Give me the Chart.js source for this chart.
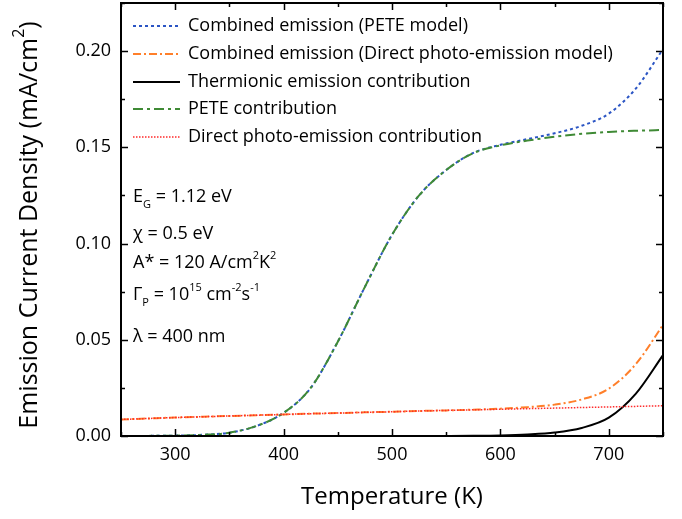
<!DOCTYPE html>
<html>
<head>
<meta charset="utf-8">
<script src="https://cdn.jsdelivr.net/npm/chart.js@4.4.1/dist/chart.umd.min.js"></script>
<style>
html,body{margin:0;padding:0;background:#fff;}
#c{display:block;}
</style>
</head>
<body>
<canvas id="c" width="682" height="519"></canvas>
<script>
// ---- Data ----
const temps = [250,275,300,325,350,375,400,425,450,475,500,525,550,575,600,625,650,675,700,725,750];
const combinedPETE = [0.00002,0.00006,0.0002,0.0006,0.0017,0.0052,0.0120,0.0250,0.0490,0.0775,0.1045,0.1250,0.1382,0.1471,0.1513,0.1543,0.1573,0.1612,0.1675,0.1806,0.2010];
const combinedDirect = [0.0086,0.0091,0.0096,0.0100,0.0104,0.0108,0.0112,0.0116,0.0119,0.0123,0.0126,0.0130,0.0133,0.0137,0.0142,0.0150,0.0163,0.0190,0.0246,0.0374,0.0577];
const thermionic = [0,0,0,0,0,0,0,0,0,0,0,0.00001,0.00003,0.0001,0.0003,0.0008,0.0018,0.0042,0.0095,0.0220,0.0420];
const peteContribution = [0.00002,0.00006,0.0002,0.0006,0.0017,0.0052,0.0120,0.0250,0.0490,0.0775,0.1045,0.1250,0.1382,0.1470,0.1510,0.1535,0.1555,0.1570,0.1580,0.1586,0.1590];
const directContribution = [0.0086,0.0091,0.0096,0.0100,0.0104,0.0108,0.0112,0.0116,0.0119,0.0123,0.0126,0.0130,0.0133,0.0136,0.0139,0.0142,0.0145,0.0148,0.0151,0.0154,0.0157];

const seriesNames = [
  'Combined emission (PETE model)',
  'Combined emission (Direct photo-emission model)',
  'Thermionic emission contribution',
  'PETE contribution',
  'Direct photo-emission contribution'
];
const xTickValues = [300,400,500,600,700];
const yTickValues = [0,0.05,0.10,0.15,0.20];
const yTickLabels = ['0.00','0.05','0.10','0.15','0.20'];
const xTitle = 'Temperature (K)';

const FONT = "'Open Sans', sans-serif";

function pts(arr){ return temps.map((t,i)=>({x:t,y:arr[i]})); }

const styles = [
  {color:'#2b55c4', dash:[3,3], width:2},
  {color:'#ff7f2a', dash:[8,3,2,3], width:2},
  {color:'#000000', dash:[], width:2},
  {color:'#3f8a35', dash:[10,4,3,4], width:2},
  {color:'#ff2a2a', dash:[1.5,1.5], width:1.5}
];
const seriesData = [combinedPETE, combinedDirect, thermionic, peteContribution, directContribution];

const datasets = seriesData.map((arr,i)=>({
  label: seriesNames[i],
  data: pts(arr),
  borderColor: styles[i].color,
  borderDash: styles[i].dash,
  borderWidth: styles[i].width,
  pointRadius: 0,
  fill: false,
  cubicInterpolationMode: 'monotone',
  order: [4,3,2,1,0][i]
}));

function drawRich(ctx, x, y, parts, size){
  let cx = x;
  for (const p of parts){
    let fs = size, dy = 0;
    if (p.sub){ fs = Math.round(size*0.62); dy = size*0.42; }
    if (p.sup){ fs = Math.round(size*0.62); dy = -size*0.42; }
    ctx.font = fs + 'px ' + FONT;
    ctx.fillText(p.t, cx, y + dy);
    cx += ctx.measureText(p.t).width;
  }
}

const annotations = [
  {y:197, parts:[{t:'E'},{t:'G',sub:true},{t:' = 1.12 eV'}]},
  {y:234, parts:[{t:'\u03C7 = 0.5 eV'}]},
  {y:263, parts:[{t:'A* = 120 A/cm'},{t:'2',sup:true},{t:'K'},{t:'2',sup:true}]},
  {y:295, parts:[{t:'\u0393'},{t:'P',sub:true},{t:' = 10'},{t:'15',sup:true},{t:' cm'},{t:'-2',sup:true},{t:'s'},{t:'-1',sup:true}]},
  {y:337, parts:[{t:'\u03BB = 400 nm'}]}
];

const custom = {
  id:'custom',
  afterDraw(chart){
    const ctx = chart.ctx, ca = chart.chartArea;
    const xs = chart.scales.x, ys = chart.scales.y;
    ctx.save();
    // frame
    ctx.setLineDash([]);
    ctx.strokeStyle = '#000';
    ctx.lineWidth = 2;
    ctx.strokeRect(ca.left, ca.top, ca.right-ca.left, ca.bottom-ca.top);
    // ticks (inward, mirrored)
    ctx.lineWidth = 1.5;
    for (let v = xs.min; v <= xs.max + 1e-9; v += 50){
      const major = Math.abs(v % 100) < 1e-9;
      const L = major ? 7 : 4;
      const px = Math.round(xs.getPixelForValue(v)) + 0.5;
      ctx.beginPath();
      ctx.moveTo(px, ca.bottom); ctx.lineTo(px, ca.bottom - L);
      ctx.moveTo(px, ca.top); ctx.lineTo(px, ca.top + L);
      ctx.stroke();
    }
    for (let k = 0; k <= 9; k++){
      const v = k*0.025;
      if (v > ys.max + 1e-9) break;
      const major = k % 2 === 0;
      const L = major ? 7 : 4;
      const py = Math.round(ys.getPixelForValue(v)) + 0.5;
      ctx.beginPath();
      ctx.moveTo(ca.left, py); ctx.lineTo(ca.left + L, py);
      ctx.moveTo(ca.right, py); ctx.lineTo(ca.right - L, py);
      ctx.stroke();
    }
    // legend
    const rowY = [26, 54, 82, 109, 137];
    ctx.textBaseline = 'middle';
    ctx.fillStyle = '#000';
    chart.data.datasets.forEach((ds,i)=>{
      const y = rowY[i];
      ctx.strokeStyle = ds.borderColor;
      ctx.lineWidth = ds.borderWidth;
      ctx.setLineDash(ds.borderDash);
      ctx.beginPath();
      ctx.moveTo(133, y); ctx.lineTo(180, y);
      ctx.stroke();
      ctx.setLineDash([]);
      ctx.font = '18px ' + FONT;
      ctx.textAlign = 'left';
      ctx.fillText(ds.label, 188, y);
    });
    // annotations
    annotations.forEach(a=>drawRich(ctx, 133, a.y, a.parts, 18));
    // x title
    ctx.font = '24px ' + FONT;
    ctx.textAlign = 'center';
    ctx.fillText(xTitle, 392, 497);
    // y title
    ctx.save();
    ctx.translate(30, 225);
    ctx.rotate(-Math.PI/2);
    const parts = [{t:'Emission Current Density (mA/cm'},{t:'2',sup:true},{t:')'}];
    let total = 0;
    parts.forEach(p=>{ ctx.font = (p.sup?Math.round(25*0.62):25)+'px '+FONT; total += ctx.measureText(p.t).width; });
    ctx.textAlign = 'left';
    drawRich(ctx, -total/2, 0, parts, 25);
    ctx.restore();
    ctx.restore();
  }
};

new Chart(document.getElementById('c'), {
  type:'line',
  data:{datasets},
  options:{
    responsive:false,
    animation:false,
    layout:{padding:{top:3,right:19,left:0,bottom:0}},
    plugins:{legend:{display:false}, tooltip:{enabled:false}},
    scales:{
      x:{
        type:'linear', min:250, max:750,
        grid:{display:false, drawTicks:false},
        border:{display:false},
        afterBuildTicks: s => { s.ticks = xTickValues.map(v=>({value:v})); },
        afterFit: s => { s.height = 83; s.paddingLeft = 0; s.paddingRight = 0; },
        ticks:{color:'#000', font:{family:FONT, size:18}, padding:8, maxRotation:0,
               callback: v => String(v)}
      },
      y:{
        type:'linear', min:0, max:0.225,
        grid:{display:false, drawTicks:false},
        border:{display:false},
        afterBuildTicks: s => { s.ticks = yTickValues.map(v=>({value:v})); },
        afterFit: s => { s.width = 121; s.paddingTop = 0; s.paddingBottom = 0; },
        ticks:{color:'#000', font:{family:FONT, size:18}, padding:10,
               callback: (v) => { const i = yTickValues.findIndex(t=>Math.abs(t-v)<1e-9); return i>=0 ? yTickLabels[i] : ''; }}
      }
    }
  },
  plugins:[custom]
});
</script>
</body>
</html>
